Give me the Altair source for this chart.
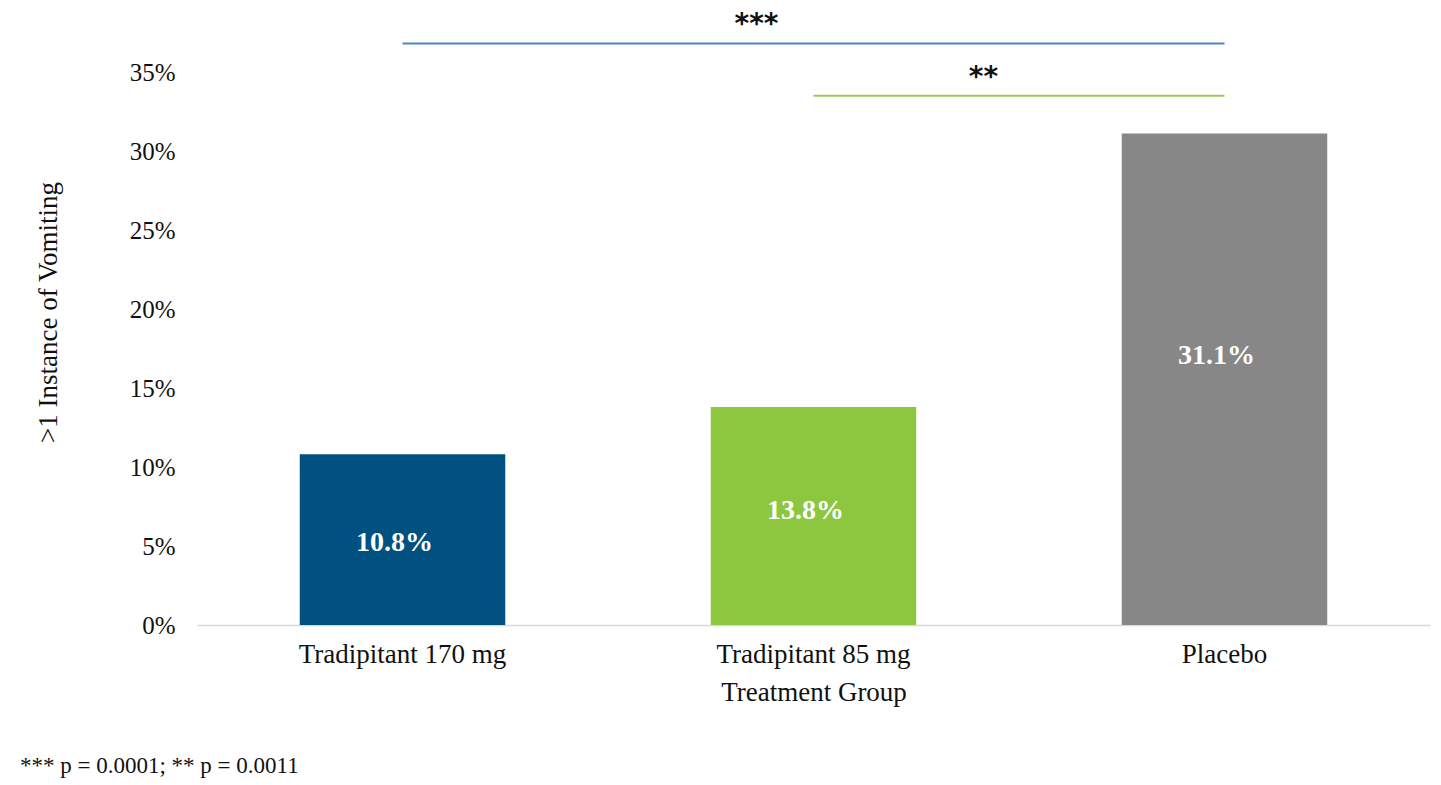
import altair as alt
import pandas as pd

categories = ["Tradipitant 170 mg", "Tradipitant 85 mg", "Placebo"]
values = [0.108, 0.138, 0.311]
labels = ["10.8%", "13.8%", "31.1%"]
label_at = [0.052, 0.072, 0.170]
colors = ["#00517f", "#8dc63f", "#878787"]

sig_start = ["Tradipitant 170 mg", "Tradipitant 85 mg"]
sig_end = ["Placebo", "Placebo"]
sig_level = [0.368, 0.335]
sig_text = ["***", "**"]
sig_text_at = [0.3886, 0.3551]
sig_colors = ["#4f86bf", "#9cc85c"]
footnote_text = "*** p = 0.0001; ** p = 0.0011"

FONT = "Liberation Serif"

bars_df = pd.DataFrame({"group": categories, "value": values, "label": labels, "label_at": label_at})
sig_df = pd.DataFrame({"start": sig_start, "end": sig_end, "level": sig_level,
                       "text": sig_text, "text_at": sig_text_at, "color": sig_colors})

xscale = alt.Scale(domain=categories, paddingInner=0.5, paddingOuter=0.25)
yscale = alt.Scale(domain=[0, 0.35], nice=False)

x_enc = alt.X("group:N", scale=xscale, sort=categories,
              axis=alt.Axis(title="Treatment Group", labelAngle=0, labelFont=FONT, labelFontSize=27,
                            labelLimit=0, labelColor="#111", titleFont=FONT, titleFontSize=27,
                            titleFontWeight="normal", titleColor="#111", labelPadding=16,
                            titlePadding=12, ticks=False, domainColor="#d9d9d9", domainWidth=1.5,
                            grid=False))
y_enc = alt.Y("value:Q", scale=yscale,
              axis=alt.Axis(title=">1 Instance of Vomiting", format=".0%",
                            values=[0, 0.05, 0.1, 0.15, 0.2, 0.25, 0.3, 0.35],
                            labelFont=FONT, labelFontSize=25, labelColor="#111", titleFont=FONT,
                            titleFontSize=27, titleFontWeight="normal", titleColor="#111",
                            ticks=False, domain=False, grid=False, labelPadding=22,
                            titleX=-149, titleY=240, titleAnchor="middle", titleBaseline="middle"))

bars = alt.Chart(bars_df).mark_bar().encode(
    x=x_enc, y=y_enc,
    color=alt.Color("group:N", scale=alt.Scale(domain=categories, range=colors), legend=None),
)

bar_labels = alt.Chart(bars_df).mark_text(font=FONT, fontSize=28, fontWeight="bold", color="white",
                                          baseline="middle", dx=-8).encode(
    x=alt.X("group:N", scale=xscale, sort=categories),
    y=alt.Y("label_at:Q", scale=yscale),
    text="label:N",
)

sig_lines = alt.Chart(sig_df).mark_rule(strokeWidth=2).encode(
    x=alt.X("start:N", scale=xscale),
    x2="end:N",
    y=alt.Y("level:Q", scale=yscale),
    color=alt.Color("color:N", scale=None),
)

star1 = alt.Chart(sig_df.iloc[[0]]).mark_text(font="DejaVu Sans", fontSize=28, fontWeight="bold",
                                               color="#111", baseline="top", dx=-468).encode(
    x=alt.X("end:N", scale=xscale), y=alt.Y("text_at:Q", scale=yscale), text="text:N")
star2 = alt.Chart(sig_df.iloc[[1]]).mark_text(font="DejaVu Sans", fontSize=28, fontWeight="bold",
                                               color="#111", baseline="top", dx=-241).encode(
    x=alt.X("end:N", scale=xscale), y=alt.Y("text_at:Q", scale=yscale), text="text:N")

footnote = alt.Chart(bars_df.iloc[[0]]).mark_text(
    text=footnote_text, font=FONT, fontSize=23, color="#111",
    align="left", baseline="middle").encode(x=alt.value(-177), y=alt.value(694))

chart = alt.layer(bars, bar_labels, sig_lines, star1, star2, footnote).properties(
    width=1233, height=553,
    background="white",
    autosize=alt.AutoSizeParams(type="none"),
    padding={"left": 189, "top": 64, "right": 3, "bottom": 160},
).configure_view(stroke=None)

chart.save("out.html", embed_options={"renderer": "svg", "actions": False})
